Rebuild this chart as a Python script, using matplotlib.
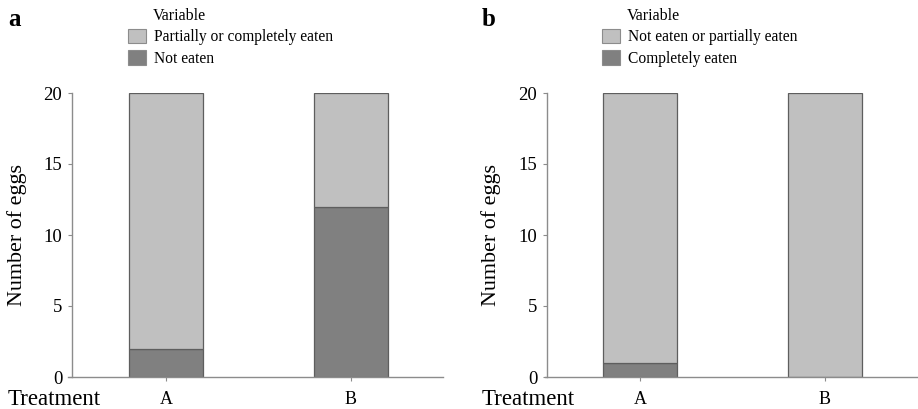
import matplotlib
matplotlib.use("Agg")
import matplotlib.pyplot as plt
from matplotlib.patches import Patch

# data
treatments = ["A", "B"]
a_low = [2, 12]      # Not eaten
a_high = [18, 8]     # Partially or completely eaten
b_low = [1, 0]       # Completely eaten
b_high = [19, 20]    # Not eaten or partially eaten
a_labels = ["Partially or completely eaten", "Not eaten"]
b_labels = ["Not eaten or partially eaten", "Completely eaten"]
yticks = [0, 5, 10, 15, 20]

light = "#c0c0c0"
dark = "#808080"
edge = "#5e5e5e"
axcol = "#8c8c8c"

plt.rcParams['font.family'] = ['Liberation Serif', 'DejaVu Serif']

W, H = 918, 409
fig = plt.figure(figsize=(W / 100, H / 100), dpi=100)


def fx(px):
    return px / W


def fy(py):
    return 1 - py / H


def panel(x0, x1, yax, low, high, labels, letter, leg_x, lab_x, treat_x, letter_x):
    ax = fig.add_axes([fx(x0), fy(377), fx(x1 - x0), fy(93) - fy(377)])
    pos = list(range(len(treatments)))
    ax.bar(pos, low, width=0.4, color=dark, edgecolor=edge, linewidth=0.9)
    ax.bar(pos, high, bottom=low, width=0.4, color=light, edgecolor=edge, linewidth=0.9)
    # bar centres are 185 px apart
    ax.set_xlim((x0 - treat_x[0]) / 185.0, (x1 - treat_x[0]) / 185.0)
    ax.set_ylim(0, 20)
    ax.set_xticks(pos)
    ax.set_xticklabels(treatments)
    ax.set_yticks(yticks)
    for s in ["top", "right"]:
        ax.spines[s].set_visible(False)
    ax.spines["left"].set_position(("data", (yax - treat_x[0]) / 185.0))
    for s in ["left", "bottom"]:
        ax.spines[s].set_color(axcol)
        ax.spines[s].set_linewidth(1.0)
    ax.tick_params(axis="both", colors=axcol, length=3, width=0.8, labelcolor="black")
    ax.tick_params(axis="y", pad=4, labelsize=13.5)
    ax.tick_params(axis="x", pad=7, labelsize=13)
    ax.patch.set_alpha(0)
    fig.text(fx(lab_x), fy(235), "Number of eggs", rotation=90, ha="center",
             va="center", fontsize=15.8)
    fig.text(fx(letter_x), fy(405), "Treatment", ha="left", va="baseline", fontsize=16.5)
    fig.text(fx(letter_x), fy(26), letter, ha="left", va="baseline", fontsize=18,
             fontweight="bold")
    handles = [Patch(facecolor=light, edgecolor=axcol, linewidth=0.8),
               Patch(facecolor=dark, edgecolor=axcol, linewidth=0.8)]
    fig.legend(handles, labels, loc="upper left",
               bbox_to_anchor=(fx(leg_x), fy(28.5)), frameon=False, fontsize=11.2,
               handlelength=1.15, handleheight=1.05, handletextpad=0.5,
               labelspacing=0.35, borderpad=0, borderaxespad=0)
    fig.text(fx(leg_x + 25), fy(20), "Variable", ha="left", va="baseline", fontsize=11.5)
    return ax


panel(68, 443, 72, a_low, a_high, a_labels, "a", 128, 17, [166, 351], 8)
panel(545, 918, 547, b_low, b_high, b_labels, "b", 602, 491, [640, 825], 482)

fig.savefig("out.png", dpi=100)
